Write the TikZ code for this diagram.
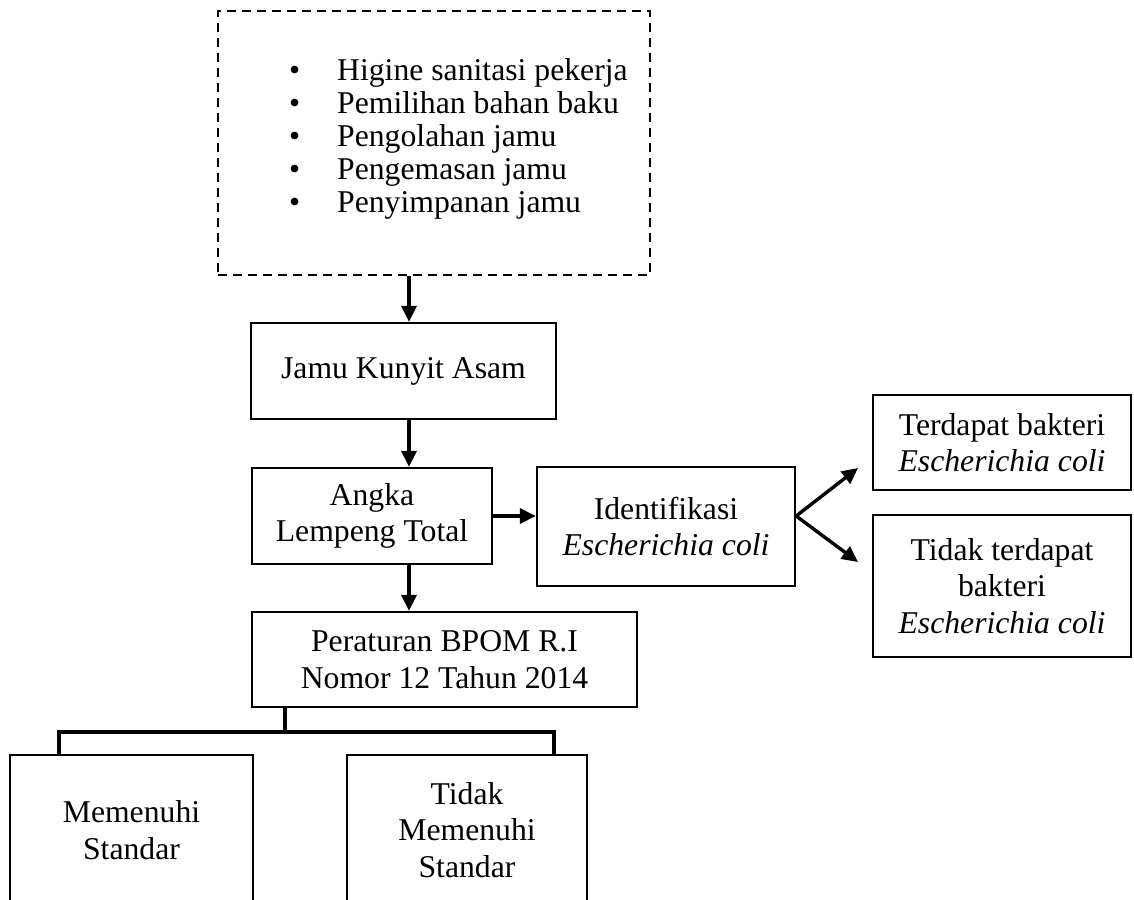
\documentclass[tikz,border=0pt]{standalone}
\usepackage{fontspec}
\setmainfont{Liberation Serif}
\usetikzlibrary{arrows.meta}
\begin{document}
\begin{tikzpicture}[x=1pt,y=-1pt,
  box/.style={draw,line width=2.3pt,rectangle,inner sep=0pt,align=center},
  openbox/.style={draw=none,rectangle,inner sep=0pt,align=center},
  conn/.style={line width=3.4pt,-{Triangle[length=16pt,width=15pt]}},
  bracketline/.style={line width=3.4pt,line join=miter},
  listline/.style={anchor=base west,inner sep=0pt},
  font=\fontsize{31.7pt}{36.5pt}\selectfont]
\useasboundingbox (0,0) rectangle (1134,899);
% dashed box
\node[box,dash pattern=on 9pt off 6pt,minimum width=432pt,minimum height=264pt] (dash) at (434,143) {};
\node[listline] (l1) at (289,80) {\makebox[48pt][l]{\textbullet}Higine sanitasi pekerja};
\node[listline] (l2) at (289,113) {\makebox[48pt][l]{\textbullet}Pemilihan bahan baku};
\node[listline] (l3) at (289,146) {\makebox[48pt][l]{\textbullet}Pengolahan jamu};
\node[listline] (l4) at (289,179) {\makebox[48pt][l]{\textbullet}Pengemasan jamu};
\node[listline] (l5) at (289,212) {\makebox[48pt][l]{\textbullet}Penyimpanan jamu};
% boxes
\node[box,minimum width=305pt,minimum height=96pt] (jamu) at (403.5,371) {Jamu Kunyit Asam};
\node[box,minimum width=240pt,minimum height=96pt] (angka) at (372,516) {Angka\\Lempeng Total};
\node[box,minimum width=258pt,minimum height=119pt] (ident) at (666,526.5) {Identifikasi\\\textit{Escherichia coli}};
\node[box,minimum width=258pt,minimum height=95pt] (terd) at (1002,442.5) {Terdapat bakteri\\\textit{Escherichia coli}};
\node[box,minimum width=258pt,minimum height=142pt] (tidak) at (1002,586) {Tidak terdapat\\bakteri\\\textit{Escherichia coli}};
\node[box,minimum width=385pt,minimum height=95pt] (perat) at (444.5,659.5) {Peraturan BPOM R.I\\Nomor 12 Tahun 2014};
\node[openbox,minimum width=243pt,minimum height=150pt] (mem) at (131.5,830) {Memenuhi\\Standar};
\node[openbox,minimum width=240pt,minimum height=150pt] (tmem) at (467,830) {Tidak\\Memenuhi\\Standar};
\draw[line width=2.3pt] (mem.south west) -- (mem.north west) -- (mem.north east) -- (mem.south east);
\draw[line width=2.3pt] (tmem.south west) -- (tmem.north west) -- (tmem.north east) -- (tmem.south east);
% connectors
\coordinate (ax) at (409,0);
\draw[conn] (dash.south -| ax) -- (jamu.north -| ax);
\draw[conn] (jamu.south -| ax) -- (angka.north -| ax);
\draw[conn] (angka.south -| ax) -- (perat.north -| ax);
\draw[conn] (angka.east) -- (angka.east -| ident.west);
\coordinate (fork) at (ident.east |- angka.east);
\coordinate (t1) at (858,468);
\coordinate (t2) at (858,562);
\draw[conn] (fork) -- (t1);
\draw[conn] (fork) -- (t2);
% bracket
\coordinate (bm) at (285,732);
\coordinate (bl) at (59,732);
\coordinate (br) at (554,732);
\draw[bracketline] (perat.south -| bm) -- (bm);
\draw[bracketline] (mem.north -| bl) -- (bl) -- (br) -- (tmem.north -| br);
\end{tikzpicture}
\end{document}
